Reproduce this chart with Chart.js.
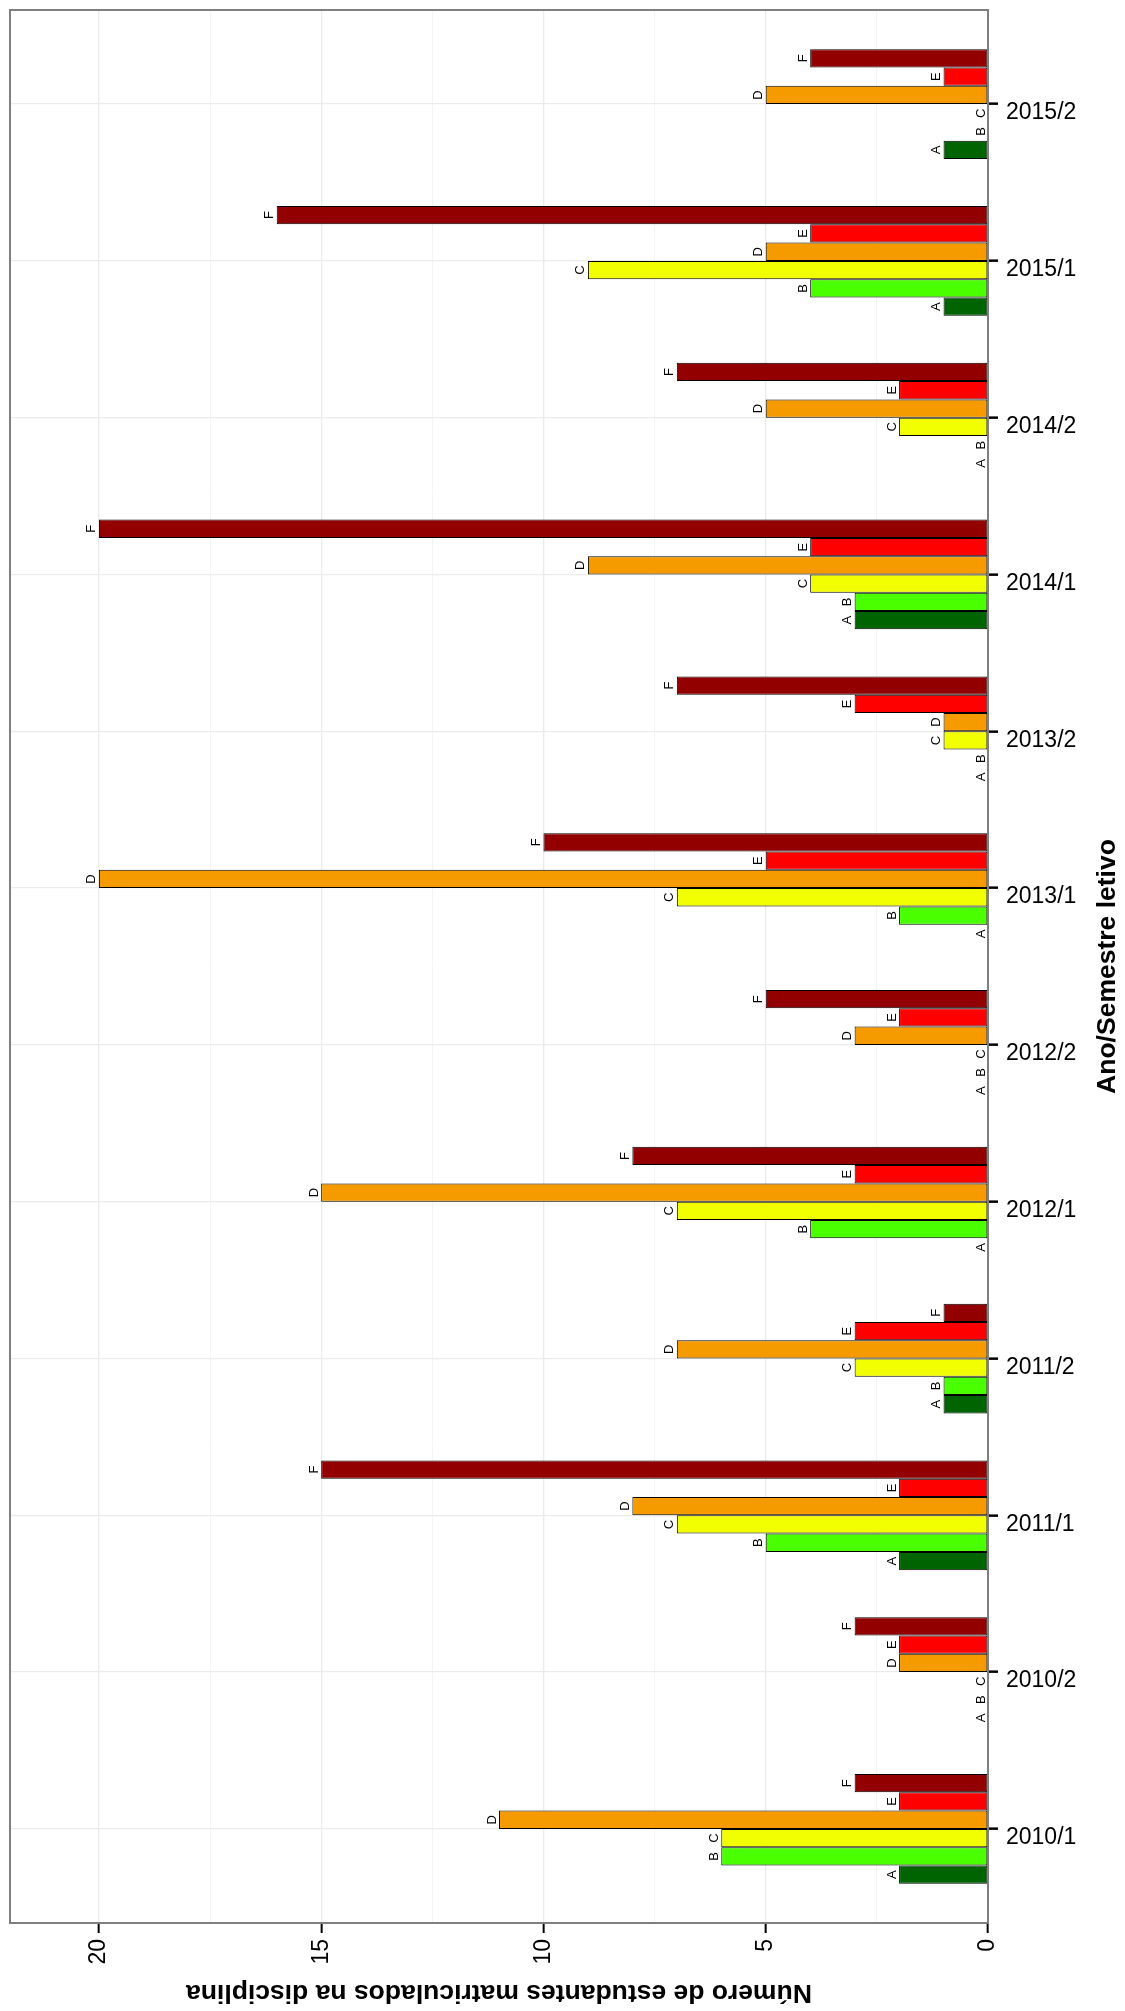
<!DOCTYPE html>
<html>
<head>
<meta charset="utf-8">
<title>Número de estudantes por semestre</title>
<script src="https://cdn.jsdelivr.net/npm/chart.js@4/dist/chart.umd.min.js"></script>
<style>
    html, body { margin: 0; padding: 0; background: #fff; overflow: hidden; }
    canvas { display: block; }
</style>
</head>
<body>
<canvas id="gradesChart" width="1125" height="2011"></canvas>
<script>
// Semesters (category axis, bottom to top)
const semesters = ['2010/1', '2010/2', '2011/1', '2011/2', '2012/1', '2012/2',
                   '2013/1', '2013/2', '2014/1', '2014/2', '2015/1', '2015/2'];

// Students per grade concept
const gradeA = [2, 0, 2, 1, 0, 0, 0, 0, 3, 0, 1, 1];
const gradeB = [6, 0, 5, 1, 4, 0, 2, 0, 3, 0, 4, 0];
const gradeC = [6, 0, 7, 3, 7, 0, 7, 1, 4, 2, 9, 0];
const gradeD = [11, 2, 8, 7, 15, 3, 20, 1, 9, 5, 5, 5];
const gradeE = [2, 2, 2, 3, 3, 2, 5, 3, 4, 2, 4, 1];
const gradeF = [3, 3, 15, 1, 8, 5, 10, 7, 20, 7, 16, 4];

// Value axis ticks (major every 5, minor in between)
const valueTicks = [0, 2.5, 5, 7.5, 10, 12.5, 15, 17.5, 20];

const yTitle = 'Número de estudantes matriculados na disciplina';
const xTitle = 'Ano/Semestre letivo';

const FONT = '"Liberation Sans", Arial, Helvetica, sans-serif';
Chart.defaults.font.family = FONT;

// F first so that A ends up at the bottom of each group
const grades = [
    { label: 'F', values: gradeF, color: '#930000' },
    { label: 'E', values: gradeE, color: '#FF0000' },
    { label: 'D', values: gradeD, color: '#F59B00' },
    { label: 'C', values: gradeC, color: '#F2FF00' },
    { label: 'B', values: gradeB, color: '#4AFF00' },
    { label: 'A', values: gradeA, color: '#006400' }
];

// Letter labels at bar ends, panel border and the two axis titles
const decorations = {
    id: 'decorations',
    afterDatasetsDraw(chart) {
        const ctx = chart.ctx;
        const area = chart.chartArea;
        ctx.save();
        ctx.fillStyle = '#000';
        ctx.font = '13px ' + FONT;
        chart.data.datasets.forEach((ds, i) => {
            const meta = chart.getDatasetMeta(i);
            meta.data.forEach(bar => {
                ctx.save();
                ctx.translate(bar.x - 3.5, bar.y);
                ctx.rotate(-Math.PI / 2);
                ctx.textAlign = 'center';
                ctx.textBaseline = 'alphabetic';
                ctx.fillText(ds.label, 0, 0);
                ctx.restore();
            });
        });
        ctx.strokeStyle = '#7F7F7F';
        ctx.lineWidth = 2;
        ctx.strokeRect(area.left, area.top, area.right - area.left, area.bottom - area.top);
        ctx.restore();
    },
    afterDraw(chart) {
        const ctx = chart.ctx;
        const area = chart.chartArea;
        ctx.save();
        ctx.fillStyle = '#000';
        ctx.font = 'bold 26.5px ' + FONT;
        ctx.textAlign = 'center';
        ctx.textBaseline = 'alphabetic';

        // value axis title, upside down under the panel
        ctx.save();
        ctx.translate((area.left + area.right) / 2, 1985);
        ctx.rotate(Math.PI);
        ctx.fillText(yTitle, 0, 0);
        ctx.restore();

        // category axis title, reading upwards on the right
        ctx.save();
        ctx.translate(1115, (area.top + area.bottom) / 2);
        ctx.rotate(-Math.PI / 2);
        ctx.fillText(xTitle, 0, 0);
        ctx.restore();

        ctx.restore();
    }
};

const ctx = document.getElementById('gradesChart').getContext('2d');

new Chart(ctx, {
    type: 'bar',
    data: {
        datasets: grades.map(g => ({
            label: g.label,
            data: g.values.map((v, i) => ({ x: v, y: i })),
            backgroundColor: g.color,
            borderColor: '#000',
            borderWidth: 1,
            borderSkipped: false,
            categoryPercentage: 0.7,
            barPercentage: 1.0
        }))
    },
    options: {
        indexAxis: 'y',
        responsive: false,
        animation: false,
        layout: { padding: { left: 10, top: 10, right: 0, bottom: 0 } },
        plugins: {
            legend: { display: false },
            tooltip: { enabled: false }
        },
        scales: {
            x: {
                type: 'linear',
                position: 'bottom',
                reverse: true,
                min: 0,
                max: 22,
                afterBuildTicks: scale => { scale.ticks = valueTicks.map(v => ({ value: v })); },
                afterFit: scale => {
                    scale.height = 88;
                    scale.paddingLeft = 0;
                    scale.paddingRight = 0;
                },
                border: { display: false },
                grid: {
                    color: c => (c.tick && c.tick.value % 5 === 0) ? '#EBEBEB' : '#F4F4F4',
                    lineWidth: c => (c.tick && c.tick.value % 5 === 0) ? 1.3 : 1,
                    tickLength: 10,
                    tickWidth: 2,
                    tickColor: c => (c.tick && c.tick.value % 5 === 0) ? '#000' : 'rgba(0,0,0,0)'
                },
                ticks: {
                    autoSkip: false,
                    minRotation: 90,
                    maxRotation: 90,
                    padding: 6,
                    color: '#000',
                    font: { size: 23 },
                    callback: v => (v % 5 === 0) ? String(v) : ''
                }
            },
            y: {
                type: 'linear',
                position: 'right',
                offset: false,
                min: -0.6,
                max: 11.6,
                afterBuildTicks: scale => { scale.ticks = semesters.map((s, i) => ({ value: i })); },
                afterFit: scale => {
                    scale.width = 137;
                    scale.paddingTop = 0;
                    scale.paddingBottom = 0;
                },
                border: { display: false },
                grid: {
                    offset: false,
                    color: '#EBEBEB',
                    lineWidth: 1.3,
                    tickLength: 10,
                    tickWidth: 2.5,
                    tickColor: '#000'
                },
                ticks: {
                    autoSkip: false,
                    padding: 8,
                    labelOffset: 9,
                    color: '#000',
                    font: { size: 23 },
                    callback: v => semesters[v]
                }
            }
        }
    },
    plugins: [decorations]
});
</script>
</body>
</html>
